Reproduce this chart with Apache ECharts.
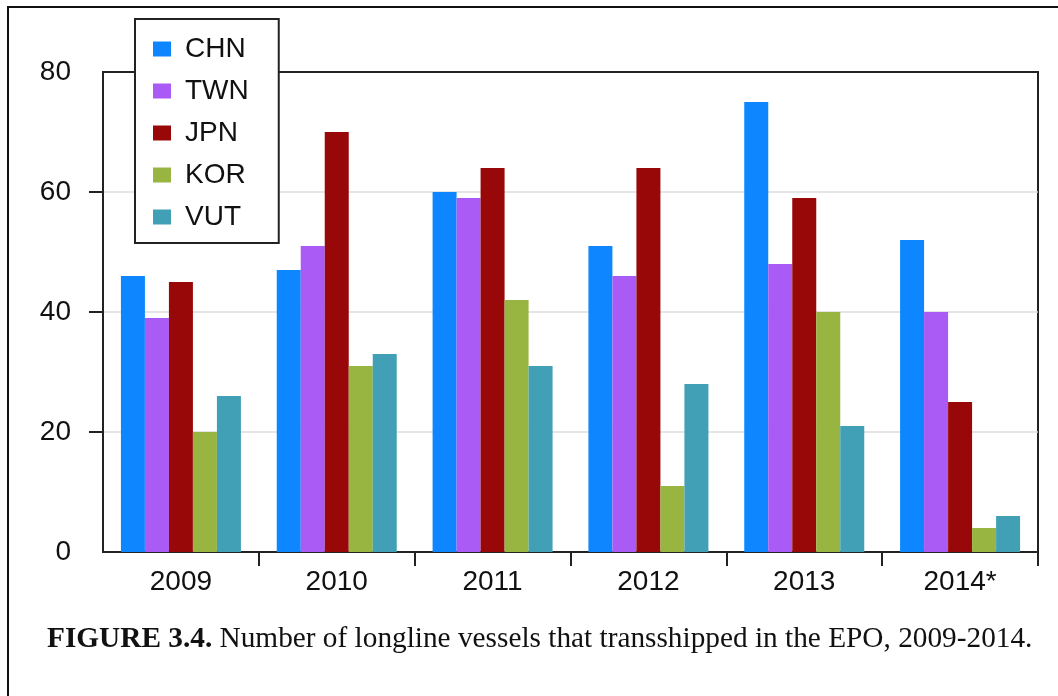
<!DOCTYPE html>
<html>
<head>
<meta charset="utf-8">
<script src="https://cdn.jsdelivr.net/npm/echarts@6/dist/echarts.min.js"></script>
<style>
  html, body { margin: 0; padding: 0; background: #fff; }
  #chart { width: 1058px; height: 696px; }
</style>
</head>
<body>
<div id="chart"></div>
<script>
// data
const years = ['2009', '2010', '2011', '2012', '2013', '2014*'];
const chn = [46, 47, 60, 51, 75, 52];
const twn = [39, 51, 59, 46, 48, 40];
const jpn = [45, 70, 64, 64, 59, 25];
const kor = [20, 31, 42, 11, 40, 4];
const vut = [26, 33, 31, 28, 21, 6];
const yTicks = [0, 20, 40, 60, 80];

const countries = [
  { name: 'CHN', data: chn, color: '#0d86ff' },
  { name: 'TWN', data: twn, color: '#aa5af5' },
  { name: 'JPN', data: jpn, color: '#990808' },
  { name: 'KOR', data: kor, color: '#98b542' },
  { name: 'VUT', data: vut, color: '#42a0b6' }
];

const chart = echarts.init(document.getElementById('chart'));

const option = {
  animation: false,
  textStyle: { fontFamily: 'Liberation Sans, Arial, sans-serif' },
  grid: {
    left: 103, top: 72, right: 20, bottom: 144,
    show: true, borderColor: '#222', borderWidth: 2
  },
  legend: {
    orient: 'vertical',
    left: 135, top: 19,
    backgroundColor: '#fff',
    borderColor: '#222', borderWidth: 2, borderRadius: 0,
    padding: [16, 30, 12, 18],
    itemWidth: 18, itemHeight: 15, itemGap: 14,
    icon: 'rect',
    textStyle: { fontSize: 28, color: '#111', lineHeight: 28, padding: [0, 0, 0, 9] },
    data: countries.map(c => c.name)
  },
  xAxis: {
    type: 'category',
    data: years,
    axisLine: { lineStyle: { color: '#222', width: 2 } },
    axisTick: { show: true, inside: false, length: 14, lineStyle: { color: '#222', width: 2 },
      interval: (i) => i > 0 && i < years.length },
    axisLabel: { fontSize: 28, color: '#111', margin: 16 }
  },
  yAxis: {
    type: 'value',
    min: yTicks[0], max: yTicks[yTicks.length - 1], interval: 20,
    axisLine: { show: true, lineStyle: { color: '#222', width: 2 } },
    axisTick: { show: true, length: 14, lineStyle: { color: '#222', width: 2 },
      customValues: yTicks.slice(1, -1) },
    axisLabel: { fontSize: 28, color: '#111', margin: 32 },
    splitLine: { lineStyle: { color: '#ddd', width: 1.5 } }
  },
  series: countries.map(c => ({
    name: c.name,
    type: 'bar',
    data: c.data,
    barWidth: 24,
    barGap: '0%',
    itemStyle: { color: c.color }
  })),
  graphic: [
    {
      // outer figure frame
      type: 'rect', silent: true, z: -10,
      shape: { x: 8, y: 7, width: 1070, height: 720 },
      style: { fill: 'none', stroke: '#111', lineWidth: 2 }
    },
    {
      type: 'text', left: 47, top: 625,
      style: {
        text: '{b|FIGURE 3.4.} Number of longline vessels that transshipped in the EPO, 2009-2014.',
        font: '29.3px "Liberation Serif", "Times New Roman", serif',
        fill: '#111',
        rich: {
          b: { fontWeight: 'bold', fontSize: 29.3, fontFamily: 'Liberation Serif', fill: '#111' }
        }
      }
    }
  ]
};

chart.setOption(option);
</script>
</body>
</html>
